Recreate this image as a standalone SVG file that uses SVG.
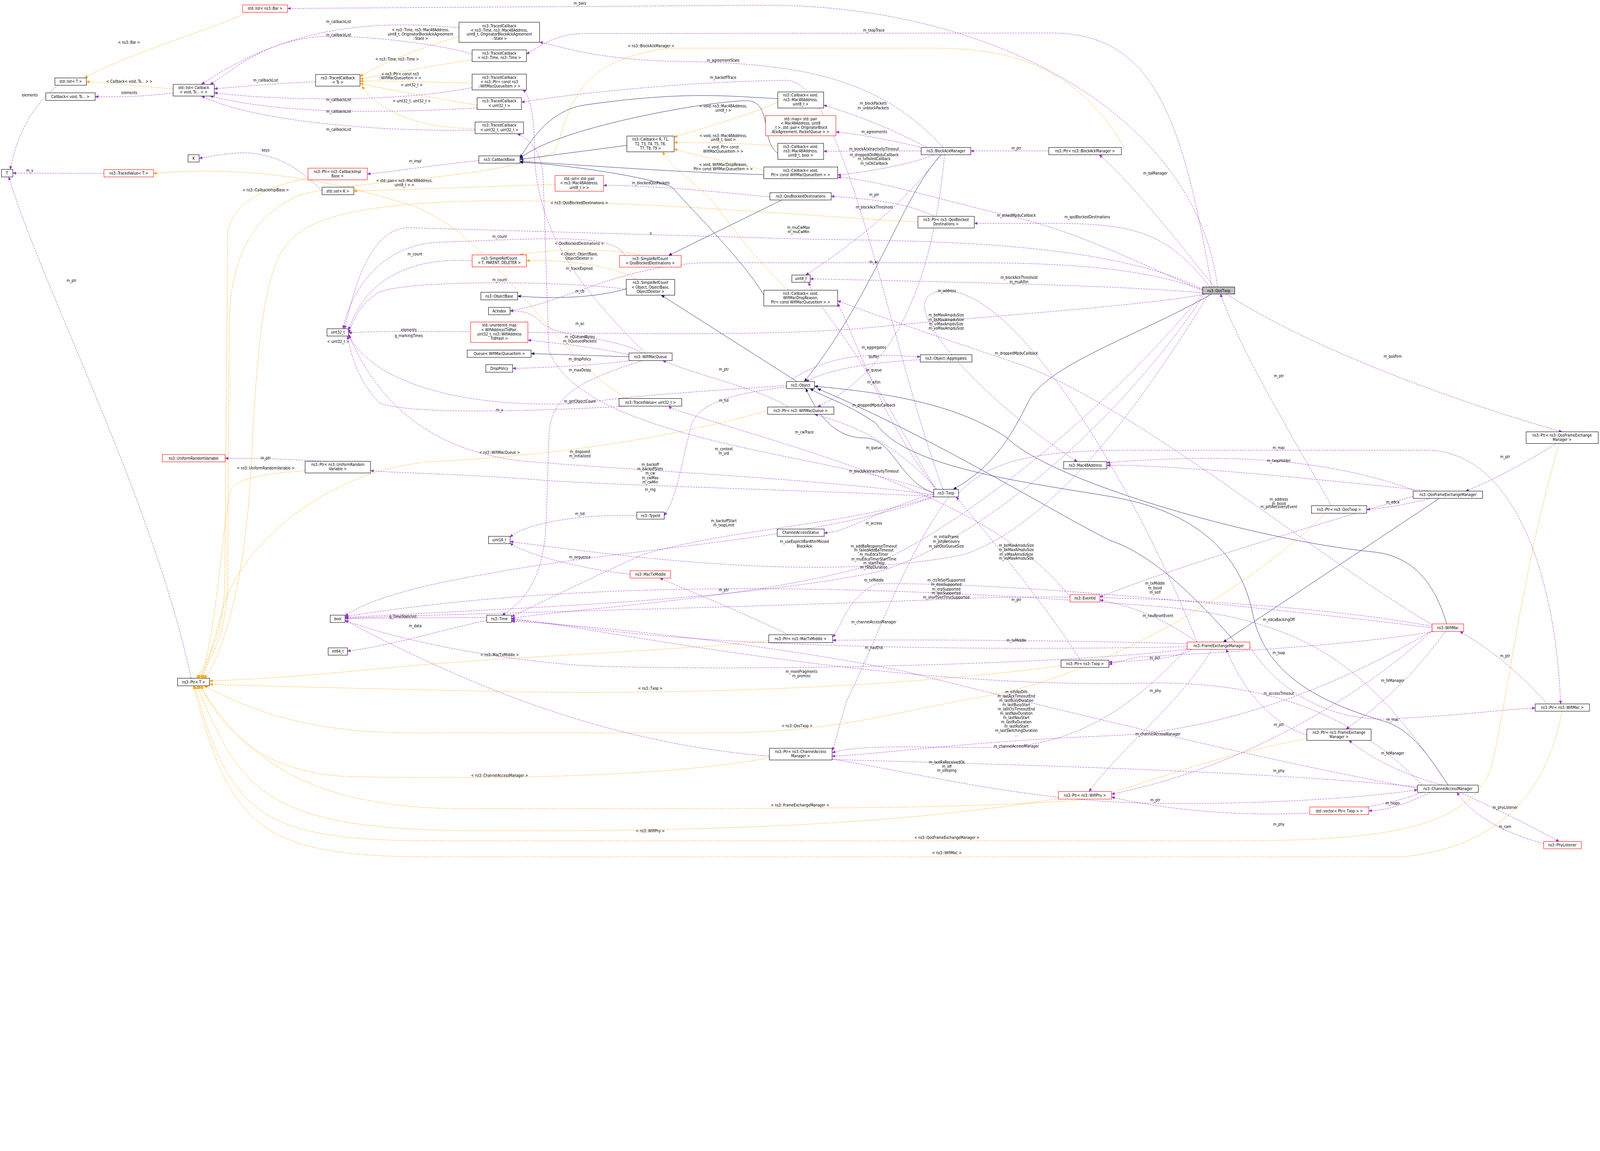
<svg xmlns="http://www.w3.org/2000/svg" width="5480" height="2947" viewBox="0 0 5480 2947" style="max-width:100%;height:auto">
<style>
text{font-family:"DejaVu Sans Condensed","DejaVu Sans","Liberation Sans",sans-serif;font-stretch:condensed;font-size:13px;fill:#000;text-anchor:middle}
.n rect{fill:#fff;stroke:#000;stroke-width:1.4}
.r rect{fill:#fff;stroke:#ff0000;stroke-width:1.4}
.g rect{fill:#bfbfbf;stroke:#000;stroke-width:1.4}
.p{fill:none;stroke:#9a32cd;stroke-width:1.2;stroke-dasharray:6,3;marker-end:url(#ap)}
.o{fill:none;stroke:#ffa500;stroke-width:1.2;stroke-dasharray:6,3;marker-end:url(#ao)}
.b{fill:none;stroke:#191970;stroke-width:1.2;marker-end:url(#ab)}
</style>
<defs>
<marker id="ap" markerWidth="12" markerHeight="10" refX="11" refY="5" orient="auto" markerUnits="userSpaceOnUse"><path d="M0,0 L12,5 L0,10 Z" fill="#9a32cd"/></marker>
<marker id="ao" markerWidth="12" markerHeight="10" refX="11" refY="5" orient="auto" markerUnits="userSpaceOnUse"><path d="M0,0 L12,5 L0,10 Z" fill="#ffa500"/></marker>
<marker id="ab" markerWidth="12" markerHeight="10" refX="11" refY="5" orient="auto" markerUnits="userSpaceOnUse"><path d="M0,0 L12,5 L0,10 Z" fill="#191970"/></marker>
</defs>
<rect width="5480" height="2947" fill="#fff"/>
<g id="connectors">
<path class="o" d="M850,42 C700,110 420,190 290,267"/>
<path class="o" d="M593,305 C480,295 380,285 296,280"/>
<path class="o" d="M1572,125 C1450,160 1300,220 1233,262"/>
<path class="o" d="M1617,205 C1450,230 1300,260 1233,270"/>
<path class="o" d="M1617,285 C1450,280 1300,276 1233,278"/>
<path class="o" d="M1634,360 C1450,330 1300,300 1233,286"/>
<path class="o" d="M1627,440 C1400,440 1280,360 1240,295"/>
<path class="o" d="M2150,1365 C1900,1230 1700,800 1400,700 C1200,640 900,560 526,594"/>
<path class="o" d="M1060,610 C900,640 790,700 780,800 L770,2000 C765,2200 690,2290 675,2323"/>
<path class="o" d="M3850,505 C3700,250 3500,165 3200,165 L2300,165 C1950,200 1950,400 1900,520 C1700,620 1100,620 1000,680 C850,760 790,900 785,1100 L780,2000 C775,2200 700,2290 680,2323"/>
<path class="o" d="M3144,761 C2800,740 2300,700 1900,690 C1500,680 1100,700 1000,820 C900,900 880,1200 860,1600 C840,2000 760,2250 700,2323"/>
<path class="o" d="M2629,1406 C2300,1500 1900,1560 1500,1580 C1100,1600 800,1900 760,2100 L695,2323"/>
<path class="o" d="M1045,1612 C950,1620 810,1630 790,1680 C760,1800 750,2100 690,2323"/>
<path class="o" d="M2633,2195 C2300,2230 1700,2250 1300,2290 C1000,2320 800,2330 718,2332"/>
<path class="o" d="M3634,2280 C3200,2340 2500,2380 1800,2370 C1300,2360 900,2350 718,2344"/>
<path class="o" d="M4540,1758 C4300,2000 3800,2300 3400,2380 C3000,2450 2900,2500 2500,2510 L1400,2510 C1000,2510 800,2400 700,2349"/>
<path class="o" d="M2635,2595 C2300,2660 1700,2670 1200,2660 C900,2650 760,2500 690,2349"/>
<path class="o" d="M4476,2530 C4100,2600 3900,2700 3700,2740 C3300,2770 2800,2770 1600,2770 C1000,2770 830,2560 680,2349"/>
<path class="o" d="M3625,2735 C3100,2820 2500,2850 1600,2845 C900,2840 820,2700 675,2349"/>
<path class="o" d="M5340,1519 C5200,2000 5150,2500 5100,2650 C5000,2850 4700,2880 4200,2880 L1500,2880 C900,2880 790,2800 667,2349"/>
<path class="o" d="M5350,2436 C5300,2700 5150,2900 4800,2935 L1500,2935 C900,2935 790,2850 663,2349"/>
<path class="o" d="M1901,632 C1600,640 1400,650 1212,654"/>
<path class="o" d="M2664,350 C2550,400 2400,440 2309,470"/>
<path class="o" d="M2664,500 C2550,490 2400,488 2309,488"/>
<path class="o" d="M2616,585 C2550,560 2400,540 2309,510"/>
<path class="o" d="M2700,994 C2600,900 2520,800 2450,700 C2380,620 2300,580 2270,520"/>
<path class="o" d="M2200,875 C2100,850 1900,850 1780,873"/>
<path class="o" d="M2180,957 C2100,910 1950,890 1803,893"/>
<path class="b" d="M2147,498 L1781,546"/>
<path class="b" d="M2664,338 C2500,330 2350,310 2000,360 C1880,380 1820,480 1781,540"/>
<path class="b" d="M2664,525 C2600,480 2650,340 2550,345 C2400,350 1900,440 1781,543"/>
<path class="b" d="M2616,598 C2300,590 2000,565 1781,553"/>
<path class="b" d="M2616,1010 C2550,900 2400,750 2300,640 C2200,600 1900,560 1781,556"/>
<path class="b" d="M2680,684 L2290,875"/>
<path class="b" d="M2160,985 C2050,1020 1900,1025 1773,1014"/>
<path class="b" d="M2730,1307 L2265,1011"/>
<path class="b" d="M2154,1222 L1819,1211"/>
<path class="b" d="M3225,530 C3100,650 3000,1000 2755,1307"/>
<path class="b" d="M3198,1688 C3080,1650 3060,1500 2960,1500 C2860,1500 2800,1420 2760,1331"/>
<path class="b" d="M4150,1007 C3900,1150 3580,1250 3520,1380 C3460,1500 3400,1600 3265,1676"/>
<path class="b" d="M4230,2199 C4100,2050 3950,1900 3800,1850 C3600,1750 3200,1500 2800,1331"/>
<path class="b" d="M4955,2137 C4900,1950 4800,1900 4700,1890 C4300,1850 3600,1650 3450,1500 C3300,1400 3100,1350 2790,1323"/>
<path class="b" d="M4960,2689 C4900,2600 4840,2500 4740,2470 C4500,2400 4330,2300 4290,2100 C4250,1900 4100,1750 3800,1700 C3500,1650 3100,1600 3000,1450 C2900,1380 2820,1360 2775,1331"/>
<path class="b" d="M4930,1707 L4190,2199"/>
<path class="p" d="M200,292 C120,350 60,450 35,580"/>
<path class="p" d="M593,318 C500,330 420,333 326,331"/>
<path class="p" d="M1572,95 C1300,70 1000,80 690,289"/>
<path class="p" d="M1617,185 C1500,150 1250,120 1100,125 C900,140 800,240 720,289"/>
<path class="p" d="M1081,280 C950,285 850,295 734,304"/>
<path class="p" d="M1617,300 C1400,345 1000,350 734,318"/>
<path class="p" d="M1634,370 C1400,382 1000,400 720,329"/>
<path class="p" d="M1627,445 C1400,452 900,430 690,329"/>
<path class="p" d="M356,594 L44,593"/>
<path class="p" d="M655,2323 C520,1700 150,1000 30,606"/>
<path class="p" d="M1103,654 C1050,600 950,510 800,525 C740,530 700,540 682,542"/>
<path class="p" d="M1640,550 C1450,570 1330,590 1258,596"/>
<path class="p" d="M4170,983 C4100,400 3400,10 2600,18 L985,29"/>
<path class="p" d="M4150,983 C4050,400 3950,113 3600,113 L2000,115 C1900,115 1850,160 1803,185"/>
<path class="p" d="M3230,505 C3000,250 2700,215 2300,210 C2000,200 1900,150 1848,145"/>
<path class="p" d="M3230,1676 C3050,1200 2900,300 2700,275 C2300,280 1900,330 1786,350"/>
<path class="p" d="M2210,1209 C2000,1000 1830,800 1830,500 C1830,380 1810,320 1790,308"/>
<path class="p" d="M3200,1690 C2900,1560 2000,1520 1880,1200 L1860,600 C1850,500 1800,470 1772,458"/>
<path class="p" d="M3175,505 C3050,440 2950,400 2821,360"/>
<path class="p" d="M3170,508 C3050,480 2950,460 2863,452"/>
<path class="p" d="M3155,517 L2821,518"/>
<path class="p" d="M3200,530 C3100,570 2950,590 2869,600"/>
<path class="p" d="M3592,517 L3325,517"/>
<path class="p" d="M4160,983 C4050,850 3900,650 3765,530"/>
<path class="p" d="M3200,741 C3100,690 2950,680 2847,672"/>
<path class="p" d="M4150,990 C4000,800 3900,765 3600,765 L3337,765"/>
<path class="p" d="M2637,675 C2400,650 2200,635 2067,635"/>
<path class="p" d="M4119,995 C3900,900 3700,800 3500,750 C3200,680 3000,615 2869,607"/>
<path class="p" d="M3220,530 C3100,700 2900,850 2760,942"/>
<path class="p" d="M4119,1003 C3800,975 3200,965 2775,955"/>
<path class="p" d="M4119,993 C3900,910 3600,900 3300,900 L2400,900 C2100,920 1950,1030 1747,1065"/>
<path class="p" d="M4119,990 C3800,830 3200,825 2800,820 L1400,780 C1250,780 1200,1050 1180,1126"/>
<path class="p" d="M1617,893 C1400,880 1250,960 1194,1130"/>
<path class="p" d="M2140,875 C2100,800 1900,815 1500,830 C1300,840 1200,1000 1175,1126"/>
<path class="p" d="M2145,990 C1900,960 1400,960 1300,1000 C1230,1040 1210,1100 1194,1140"/>
<path class="p" d="M2694,1312 C2850,1200 3000,1215 3152,1222"/>
<path class="p" d="M3152,1232 C3000,1240 2850,1260 2760,1307"/>
<path class="p" d="M2200,1209 C2100,1150 1900,1160 1850,1100 C1820,1070 1790,1065 1747,1065"/>
<path class="p" d="M2154,1215 C2050,1190 1900,1175 1808,1165"/>
<path class="p" d="M2160,1235 C2050,1250 1900,1258 1756,1262"/>
<path class="p" d="M2200,1235 C2000,1300 1880,1350 1880,1500 L1870,1800 C1860,2000 1780,2070 1720,2107"/>
<path class="p" d="M2700,1394 C2600,1330 2400,1290 2270,1235"/>
<path class="p" d="M3210,1676 C3050,1500 2900,1450 2790,1419"/>
<path class="p" d="M3235,530 C3200,900 3100,1250 2800,1394"/>
<path class="p" d="M2694,1325 C2500,1350 2400,1380 2370,1450 C2330,1600 2320,1700 2275,1766"/>
<path class="p" d="M2181,1766 C2000,1760 1800,1790 1747,1840"/>
<path class="p" d="M2158,1967 C2000,1950 1800,1900 1747,1860"/>
<path class="p" d="M2700,2174 C2550,2100 2350,2020 2260,1980"/>
<path class="p" d="M1100,1580 C950,1570 850,1570 771,1570"/>
<path class="p" d="M3198,1700 C2800,1680 2000,1660 1800,1640 C1500,1620 1350,1620 1269,1612"/>
<path class="p" d="M3198,1695 C2800,1640 2300,1620 1800,1580 C1500,1550 1300,1400 1194,1145"/>
<path class="p" d="M2150,1391 C1800,1410 1400,1420 1300,1380 C1220,1300 1200,1200 1190,1151"/>
<path class="p" d="M2694,1320 C2500,1335 2200,1350 2000,1380 C1700,1400 1300,1350 1194,1148"/>
<path class="p" d="M3665,2045 C3400,1700 2700,1530 2400,1430 C2330,1410 2300,1400 2290,1391"/>
<path class="p" d="M3198,1690 C3000,1750 2900,1825 2823,1825"/>
<path class="p" d="M3198,1700 C2900,1800 2500,1810 2200,1900 C2000,1990 1800,2090 1752,2112"/>
<path class="p" d="M3198,1702 C2800,1850 2200,1870 1700,1960 C1400,2010 1250,2060 1182,2110"/>
<path class="p" d="M3205,1676 C3100,1500 3000,1300 2850,1100 C2800,1030 2780,1000 2770,967"/>
<path class="p" d="M4119,1005 C3800,1400 3300,1800 3000,1930 C2600,2050 2000,2080 1752,2118"/>
<path class="p" d="M4125,1007 C3800,1500 3300,1880 3000,1960 C2500,2060 1800,2080 1182,2115"/>
<path class="p" d="M4130,1007 C3900,1050 3400,1080 3000,1120 C2500,1170 1500,1120 1194,1140"/>
<path class="p" d="M4140,1007 C3900,1400 3600,1800 3300,1900 C2800,2000 2100,1900 1747,1855"/>
<path class="p" d="M3205,1676 C3000,1400 2950,1200 2869,1040"/>
<path class="p" d="M4905,2140 C4500,1900 3900,1400 3500,1250 C3200,1150 3000,1080 2869,1030"/>
<path class="p" d="M4100,2199 C3900,1700 3500,1000 3240,996 C3000,1000 3400,1400 3690,1581"/>
<path class="p" d="M3250,1702 C3100,1900 3000,2200 2900,2400 C2870,2500 2860,2550 2850,2570"/>
<path class="p" d="M4905,2150 C4500,2100 3500,1990 3000,2000 C2900,2050 2880,2150 2852,2182"/>
<path class="p" d="M4066,2205 C3700,2194 3200,2190 2852,2193"/>
<path class="p" d="M4066,2215 C3600,2225 2600,2230 2000,2150 C1850,2130 1800,2125 1752,2125"/>
<path class="p" d="M4080,2224 C4050,2250 3950,2262 3798,2268"/>
<path class="p" d="M3700,2261 C3600,2100 3400,1850 3275,1702"/>
<path class="p" d="M4100,2199 C4000,2130 3900,2080 3767,2055"/>
<path class="p" d="M4150,2224 C4050,2400 3850,2550 3730,2711"/>
<path class="p" d="M4855,2700 C4300,2600 3500,2400 3100,2300 C2600,2200 2000,2140 1752,2128"/>
<path class="p" d="M4066,2220 C3900,2400 3700,2560 3400,2560 C3100,2560 2950,2550 2850,2578"/>
<path class="p" d="M4905,2160 C4500,2400 4100,2510 3800,2520 C3300,2540 3000,2585 2850,2590"/>
<path class="p" d="M4855,2695 C4300,2640 3500,2620 2800,2600 C2200,2580 1700,2400 1182,2125"/>
<path class="p" d="M2850,2600 C3100,2640 3500,2740 3900,2750 C4300,2760 4700,2730 4855,2705"/>
<path class="p" d="M4905,2145 C4500,2070 3800,2030 3300,2050 C2600,2080 1600,2100 1182,2118"/>
<path class="p" d="M4910,2163 C4700,2200 4300,2230 3900,2250 C3850,2260 3820,2270 3798,2276"/>
<path class="p" d="M4950,2163 C4850,2300 4750,2400 4610,2497"/>
<path class="p" d="M4940,2689 C4800,2650 4700,2600 4620,2536"/>
<path class="p" d="M4476,2517 C4350,2480 4250,2350 4200,2224"/>
<path class="p" d="M4281,2215 C4400,2400 4600,2480 4800,2460 C5000,2450 5150,2430 5258,2425"/>
<path class="p" d="M5300,2411 C5200,2300 5100,2220 5000,2163"/>
<path class="p" d="M3283,1690 C3400,1560 3600,1542 3900,1542 L4900,1542 C5200,1560 5330,2000 5345,2411"/>
<path class="p" d="M4900,1682 C4500,1640 4000,1590 3791,1594"/>
<path class="p" d="M4900,1707 C4800,1730 4750,1740 4681,1745"/>
<path class="p" d="M4560,1732 C4400,1450 4250,1200 4180,1007"/>
<path class="p" d="M4200,1007 C4500,1200 5000,1380 5350,1479"/>
<path class="p" d="M5330,1519 C5200,1600 5100,1650 5020,1682"/>
<path class="p" d="M4960,2689 C4700,2300 4500,2130 4000,2080 C3000,2000 2000,1980 1182,2112"/>
<path class="p" d="M4870,2689 C4600,2400 4250,2330 3900,2340 C3000,2360 2000,2140 1752,2120"/>
<path class="p" d="M4900,2714 C4800,2760 4750,2775 4688,2777"/>
<path class="p" d="M5000,2714 C5150,2780 5280,2850 5340,2882"/>
<path class="p" d="M5287,2890 C5150,2850 5050,2800 4990,2714"/>
<path class="p" d="M4870,2714 C4600,2820 4100,2800 3807,2730"/>
<path class="p" d="M4905,2160 C4700,2350 4300,2620 3807,2720"/>
<path class="p" d="M1667,2115 L1182,2118"/>
<path class="p" d="M1667,2125 C1500,2160 1350,2210 1190,2230"/>
<path class="p" d="M4840,1700 C4500,1800 4000,1950 3767,2045"/>
<path class="p" d="M4066,2224 C3600,2280 2500,2300 2000,2280 C1600,2250 1300,2170 1182,2125"/>
<path class="p" d="M4850,1682 C4500,1550 4100,1560 3791,1585"/>
<text x="442" y="150">&lt; ns3::Bar &gt;</text>
<text x="102" y="331">elements</text>
<text x="443" y="283">&lt; Callback&lt; void, Ts... &gt; &gt;</text>
<text x="443" y="322">elements</text>
<text x="1160" y="79">m_callbackList</text>
<text x="1160" y="124">m_callbackList</text>
<text x="910" y="280">m_callbackList</text>
<text x="1160" y="346">m_callbackList</text>
<text x="1160" y="386">m_callbackList</text>
<text x="1160" y="448">m_callbackList</text>
<text x="910" y="519">keys</text>
<text x="102" y="589">m_v</text>
<text x="910" y="655">&lt; ns3::CallbackImplBase &gt;</text>
<text x="245" y="966">m_ptr</text>
<text x="1440" y="107">&lt; ns3::Time, ns3::Mac48Address,</text>
<text x="1440" y="122">uint8_t, OriginatorBlockAckAgreement</text>
<text x="1440" y="136">::State &gt;</text>
<text x="1360" y="208">&lt; ns3::Time, ns3::Time &gt;</text>
<text x="1370" y="258">&lt; ns3::Ptr&lt; const ns3</text>
<text x="1370" y="272">::WifiMacQueueItem &gt; &gt;</text>
<text x="1410" y="296">&lt; uint32_t &gt;</text>
<text x="1410" y="350">&lt; uint32_t, uint32_t &gt;</text>
<text x="1986" y="16">m_bars</text>
<text x="2230" y="162">&lt; ns3::BlockAckManager &gt;</text>
<text x="2477" y="211">m_agreementState</text>
<text x="2477" y="270">m_backoffTrace</text>
<text x="2477" y="368">&lt; void, ns3::Mac48Address,</text>
<text x="2477" y="383">uint8_t &gt;</text>
<text x="2477" y="469">&lt; void, ns3::Mac48Address,</text>
<text x="2477" y="483">uint8_t, bool &gt;</text>
<text x="2477" y="509">&lt; void, Ptr&lt; const</text>
<text x="2477" y="523">WifiMacQueueItem &gt; &gt;</text>
<text x="2477" y="568">&lt; void, WifiMacDropReason,</text>
<text x="2477" y="583">Ptr&lt; const WifiMacQueueItem &gt; &gt;</text>
<text x="1422" y="556">m_impl</text>
<text x="1385" y="624">&lt; std::pair&lt; ns3::Mac48Address,</text>
<text x="1385" y="638">uint8_t &gt; &gt;</text>
<text x="2229" y="632">m_blockedQosPackets</text>
<text x="1984" y="699">&lt; ns3::QosBlockedDestinations &gt;</text>
<text x="1711" y="815">m_count</text>
<text x="1421" y="875">m_count</text>
<text x="1711" y="963">m_count</text>
<text x="2229" y="804">n</text>
<text x="1984" y="839">&lt; QosBlockedDestinations &gt;</text>
<text x="1984" y="875">&lt; Object, ObjectBase,</text>
<text x="1984" y="889">ObjectDeleter &gt;</text>
<text x="1984" y="924">m_traceExpired</text>
<text x="2735" y="784">m_muCwMax</text>
<text x="2735" y="799">m_muCwMin</text>
<text x="2993" y="109">m_txopTrace</text>
<text x="2991" y="359">m_blockPackets</text>
<text x="2991" y="374">m_unblockPackets</text>
<text x="2994" y="456">m_agreements</text>
<text x="2994" y="515">m_blockAckInactivityTimeout</text>
<text x="2994" y="535">m_droppedOldMpduCallback</text>
<text x="2994" y="549">m_txFailedCallback</text>
<text x="2994" y="564">m_txOkCallback</text>
<text x="3481" y="513">m_ptr</text>
<text x="3957" y="598">m_baManager</text>
<text x="2994" y="672">m_ptr</text>
<text x="2994" y="714">m_blockAckThreshold</text>
<text x="3481" y="742">m_ackedMpduCallback</text>
<text x="3724" y="748">m_qosBlockedDestinations</text>
<text x="2993" y="901">m_ac</text>
<text x="3490" y="955">m_blockAckThreshold</text>
<text x="3490" y="970">m_muAifsn</text>
<text x="1158" y="1174">&lt; uint32_t &gt;</text>
<text x="910" y="1573">m_ptr</text>
<text x="910" y="1608">&lt; ns3::UniformRandomVariable &gt;</text>
<text x="1986" y="1002">m_cb</text>
<text x="1400" y="1134">elements</text>
<text x="1400" y="1154">g_markingTimes</text>
<text x="1986" y="1113">m_ac</text>
<text x="1986" y="1159">m_nQueuedBytes</text>
<text x="1986" y="1173">m_nQueuedPackets</text>
<text x="1986" y="1235">m_dropPolicy</text>
<text x="1986" y="1272">m_maxDelay</text>
<text x="2479" y="1269">m_ptr</text>
<text x="1986" y="1379">m_getObjectCount</text>
<text x="2479" y="1376">m_tid</text>
<text x="1711" y="1409">m_v</text>
<text x="2755" y="1485">m_cwTrace</text>
<text x="1711" y="1554">&lt; ns3::WifiMacQueue &gt;</text>
<text x="1986" y="1552">m_disposed</text>
<text x="1986" y="1567">m_initialized</text>
<text x="2479" y="1543">m_context</text>
<text x="2479" y="1557">m_uid</text>
<text x="2227" y="1596">m_backoff</text>
<text x="2227" y="1611">m_backoffSlots</text>
<text x="2227" y="1626">m_cw</text>
<text x="2227" y="1641">m_cwMax</text>
<text x="2227" y="1656">m_cwMin</text>
<text x="2227" y="1681">m_rng</text>
<text x="1986" y="1764">m_tid</text>
<text x="2479" y="1788">m_backoffStart</text>
<text x="2479" y="1803">m_txopLimit</text>
<text x="2755" y="1860">m_useExplicitBarAfterMissed</text>
<text x="2755" y="1875">BlockAck</text>
<text x="1986" y="1913">m_sequence</text>
<text x="3243" y="1000">m_address</text>
<text x="3241" y="1084">m_beMaxAmpduSize</text>
<text x="3241" y="1099">m_bkMaxAmpduSize</text>
<text x="3241" y="1114">m_viMaxAmpduSize</text>
<text x="3241" y="1129">m_voMaxAmpduSize</text>
<text x="2993" y="1195">m_aggregates</text>
<text x="2993" y="1227">buffer</text>
<text x="2993" y="1272">m_queue</text>
<text x="2993" y="1314">m_aifsn</text>
<text x="3481" y="1214">m_droppedMpduCallback</text>
<text x="2993" y="1393">m_droppedMpduCallback</text>
<text x="2993" y="1539">m_queue</text>
<text x="2993" y="1618">m_blockAckInactivityTimeout</text>
<text x="2993" y="1796">m_access</text>
<text x="2993" y="1875">m_addBaResponseTimeout</text>
<text x="2993" y="1889">m_failedAddBaTimeout</text>
<text x="2993" y="1904">m_muEdcaTimer</text>
<text x="2993" y="1919">m_muEdcaTimerStartTime</text>
<text x="2993" y="1933">m_startTxop</text>
<text x="2993" y="1948">m_txopDuration</text>
<text x="3241" y="1844">m_initialFrame</text>
<text x="3241" y="1860">m_pifsRecovery</text>
<text x="3241" y="1875">m_setQosQueueSize</text>
<text x="3481" y="1873">m_beMaxAmsduSize</text>
<text x="3481" y="1888">m_bkMaxAmsduSize</text>
<text x="3481" y="1903">m_viMaxAmsduSize</text>
<text x="3481" y="1917">m_voMaxAmsduSize</text>
<text x="4770" y="1225">m_qosFem</text>
<text x="4380" y="1292">m_ptr</text>
<text x="4380" y="1539">m_mac</text>
<text x="5155" y="1569">m_ptr</text>
<text x="4380" y="1583">m_txopHolder</text>
<text x="4770" y="1724">m_edca</text>
<text x="4380" y="1715">m_address</text>
<text x="4380" y="1730">m_bssid</text>
<text x="4380" y="1740">m_pifsRecoveryEvent</text>
<text x="1380" y="2116">g_TimeStaticInit</text>
<text x="1422" y="2148">m_data</text>
<text x="2479" y="2025">m_ptr</text>
<text x="1711" y="2247">&lt; ns3::MacTxMiddle &gt;</text>
<text x="2745" y="2305">m_moreFragments</text>
<text x="2745" y="2320">m_promisc</text>
<text x="2227" y="2363">&lt; ns3::Txop &gt;</text>
<text x="2730" y="2491">&lt; ns3::QosTxop &gt;</text>
<text x="1711" y="2661">&lt; ns3::ChannelAccessManager &gt;</text>
<text x="2740" y="2762">&lt; ns3::FrameExchangeManager &gt;</text>
<text x="2227" y="2851">&lt; ns3::WifiPhy &gt;</text>
<text x="2993" y="1992">m_txMiddle</text>
<text x="3241" y="1992">m_ctsToSelfSupported</text>
<text x="3241" y="2007">m_dsssSupported</text>
<text x="3241" y="2022">m_erpSupported</text>
<text x="3241" y="2036">m_qosSupported</text>
<text x="3241" y="2051">m_shortSlotTimeSupported</text>
<text x="3481" y="2059">m_ptr</text>
<text x="3956" y="2002">m_txMiddle</text>
<text x="3956" y="2019">m_bssid</text>
<text x="3956" y="2034">m_self</text>
<text x="3966" y="2113">m_navResetEvent</text>
<text x="2993" y="2135">m_channelAccessManager</text>
<text x="3481" y="2198">m_txMiddle</text>
<text x="2993" y="2223">m_navEnd</text>
<text x="3955" y="2258">m_dcf</text>
<text x="3957" y="2371">m_phy</text>
<text x="3481" y="2374">m_eifsNoDifs</text>
<text x="3481" y="2389">m_lastAckTimeoutEnd</text>
<text x="3481" y="2404">m_lastBusyDuration</text>
<text x="3481" y="2418">m_lastBusyStart</text>
<text x="3481" y="2433">m_lastCtsTimeoutEnd</text>
<text x="3481" y="2448">m_lastNavDuration</text>
<text x="3481" y="2463">m_lastNavStart</text>
<text x="3481" y="2478">m_lastRxDuration</text>
<text x="3481" y="2492">m_lastRxStart</text>
<text x="3481" y="2507">m_lastSwitchingDuration</text>
<text x="3481" y="2522">...</text>
<text x="3966" y="2519">m_channelAccessManager</text>
<text x="3481" y="2561">m_channelAccessManager</text>
<text x="3243" y="2615">m_lastRxReceivedOk</text>
<text x="3243" y="2630">m_off</text>
<text x="3243" y="2644">m_sleeping</text>
<text x="3957" y="2745">m_ptr</text>
<text x="3243" y="2874">&lt; ns3::QosFrameExchangeManager &gt;</text>
<text x="3243" y="2926">&lt; ns3::WifiMac &gt;</text>
<text x="4380" y="2127">m_edcaBackingOff</text>
<text x="4380" y="2241">m_txop</text>
<text x="4770" y="2335">m_feManager</text>
<text x="4380" y="2380">m_accessTimeout</text>
<text x="5155" y="2251">m_ptr</text>
<text x="4770" y="2469">m_mac</text>
<text x="4380" y="2487">m_ptr</text>
<text x="4770" y="2585">m_feManager</text>
<text x="4380" y="2645">m_phy</text>
<text x="4770" y="2756">m_txops</text>
<text x="5155" y="2770">m_phyListener</text>
<text x="4380" y="2828">m_phy</text>
<text x="5155" y="2836">m_cam</text>
</g>
<g id="n1" class="r"><rect x="831" y="17" width="154" height="25"/><text x="908" y="34">std::list&lt; ns3::Bar &gt;</text></g>
<g id="n2" class="n"><rect x="188" y="267" width="108" height="25"/><text x="242" y="284">std::list&lt; T &gt;</text></g>
<g id="n3" class="n"><rect x="157" y="318" width="169" height="26"/><text x="241" y="336">Callback&lt; void, Ts... &gt;</text></g>
<g id="n4" class="n"><rect x="593" y="289" width="141" height="40"/><text x="663" y="305">std::list&lt; Callback</text><text x="663" y="320">&lt; void, Ts... &gt; &gt;</text></g>
<g id="n5" class="n"><rect x="1081" y="255" width="152" height="40"/><text x="1157" y="271">ns3::TracedCallback</text><text x="1157" y="286">&lt; Ts &gt;</text></g>
<g id="n6" class="n"><rect x="644" y="530" width="38" height="25"/><text x="663" y="547">K</text></g>
<g id="n7" class="n"><rect x="5" y="580" width="39" height="26"/><text x="24" y="598">T</text></g>
<g id="n8" class="r"><rect x="356" y="581" width="170" height="25"/><text x="441" y="598">ns3::TracedValue&lt; T &gt;</text></g>
<g id="n9" class="r"><rect x="1055" y="576" width="203" height="40"/><text x="1156" y="592">ns3::Ptr&lt; ns3::CallbackImpl</text><text x="1156" y="607">Base &gt;</text></g>
<g id="n10" class="n"><rect x="1103" y="641" width="109" height="26"/><text x="1157" y="659">std::set&lt; K &gt;</text></g>
<g id="n11" class="n"><rect x="1572" y="76" width="276" height="69"/><text x="1710" y="93">ns3::TracedCallback</text><text x="1710" y="108">&lt; ns3::Time, ns3::Mac48Address,</text><text x="1710" y="122">uint8_t, OriginatorBlockAckAgreement</text><text x="1710" y="137">::State &gt;</text></g>
<g id="n12" class="n"><rect x="1617" y="171" width="186" height="40"/><text x="1710" y="187">ns3::TracedCallback</text><text x="1710" y="202">&lt; ns3::Time, ns3::Time &gt;</text></g>
<g id="n13" class="n"><rect x="1617" y="254" width="186" height="54"/><text x="1710" y="270">ns3::TracedCallback</text><text x="1710" y="285">&lt; ns3::Ptr&lt; const ns3</text><text x="1710" y="300">::WifiMacQueueItem &gt; &gt;</text></g>
<g id="n14" class="n"><rect x="1634" y="335" width="152" height="40"/><text x="1710" y="351">ns3::TracedCallback</text><text x="1710" y="366">&lt; uint32_t &gt;</text></g>
<g id="n15" class="n"><rect x="1627" y="418" width="166" height="40"/><text x="1710" y="434">ns3::TracedCallback</text><text x="1710" y="449">&lt; uint32_t, uint32_t &gt;</text></g>
<g id="n16" class="n"><rect x="1640" y="534" width="141" height="25"/><text x="1710" y="551">ns3::CallbackBase</text></g>
<g id="n17" class="n"><rect x="2147" y="466" width="162" height="54"/><text x="2228" y="482">ns3::Callback&lt; R, T1,</text><text x="2228" y="497">T2, T3, T4, T5, T6,</text><text x="2228" y="512">T7, T8, T9 &gt;</text></g>
<g id="n18" class="r"><rect x="1901" y="601" width="166" height="54"/><text x="1984" y="617">std::set&lt; std::pair</text><text x="1984" y="632">&lt; ns3::Mac48Address,</text><text x="1984" y="647">uint8_t &gt; &gt;</text></g>
<g id="n19" class="r"><rect x="1617" y="873" width="186" height="41"/><text x="1710" y="889">ns3::SimpleRefCount</text><text x="1710" y="904">&lt; T, PARENT, DELETER &gt;</text></g>
<g id="n20" class="r"><rect x="2122" y="875" width="211" height="40"/><text x="2227" y="891">ns3::SimpleRefCount</text><text x="2227" y="906">&lt; QosBlockedDestinations &gt;</text></g>
<g id="n21" class="n"><rect x="2145" y="957" width="166" height="54"/><text x="2228" y="973">ns3::SimpleRefCount</text><text x="2228" y="988">&lt; Object, ObjectBase,</text><text x="2228" y="1003">ObjectDeleter &gt;</text></g>
<g id="n22" class="n"><rect x="2664" y="315" width="157" height="55"/><text x="2742" y="331">ns3::Callback&lt; void,</text><text x="2742" y="346">ns3::Mac48Address,</text><text x="2742" y="361">uint8_t &gt;</text></g>
<g id="n23" class="r"><rect x="2622" y="396" width="241" height="69"/><text x="2742" y="412">std::map&lt; std::pair</text><text x="2742" y="427">&lt; Mac48Address, uint8</text><text x="2742" y="441">_t &gt;, std::pair&lt; OriginatorBlock</text><text x="2742" y="456">AckAgreement, PacketQueue &gt; &gt;</text></g>
<g id="n24" class="n"><rect x="2664" y="491" width="157" height="55"/><text x="2742" y="507">ns3::Callback&lt; void,</text><text x="2742" y="522">ns3::Mac48Address,</text><text x="2742" y="537">uint8_t, bool &gt;</text></g>
<g id="n25" class="n"><rect x="2616" y="572" width="253" height="40"/><text x="2742" y="588">ns3::Callback&lt; void,</text><text x="2742" y="603">Ptr&lt; const WifiMacQueueItem &gt; &gt;</text></g>
<g id="n26" class="n"><rect x="2637" y="660" width="210" height="25"/><text x="2742" y="677">ns3::QosBlockedDestinations</text></g>
<g id="n27" class="n"><rect x="3155" y="505" width="170" height="25"/><text x="3240" y="522">ns3::BlockAckManager</text></g>
<g id="n28" class="n"><rect x="3592" y="505" width="249" height="25"/><text x="3716" y="522">ns3::Ptr&lt; ns3::BlockAckManager &gt;</text></g>
<g id="n29" class="n"><rect x="3144" y="741" width="193" height="40"/><text x="3240" y="757">ns3::Ptr&lt; ns3::QosBlocked</text><text x="3240" y="772">Destinations &gt;</text></g>
<g id="n30" class="n"><rect x="2712" y="942" width="63" height="25"/><text x="2743" y="959">uint8_t</text></g>
<g id="n31" class="g"><rect x="4119" y="983" width="110" height="24"/><text x="4174" y="1000">ns3::QosTxop</text></g>
<g id="n32" class="n"><rect x="1120" y="1126" width="74" height="25"/><text x="1157" y="1143">uint32_t</text></g>
<g id="n33" class="r"><rect x="556" y="1557" width="215" height="25"/><text x="663" y="1574">ns3::UniformRandomVariable</text></g>
<g id="n34" class="n"><rect x="1045" y="1580" width="224" height="40"/><text x="1157" y="1596">ns3::Ptr&lt; ns3::UniformRandom</text><text x="1157" y="1611">Variable &gt;</text></g>
<g id="n35" class="n"><rect x="1647" y="1001" width="126" height="26"/><text x="1710" y="1019">ns3::ObjectBase</text></g>
<g id="n36" class="n"><rect x="1673" y="1053" width="74" height="25"/><text x="1710" y="1070">AcIndex</text></g>
<g id="n37" class="r"><rect x="1612" y="1103" width="196" height="70"/><text x="1710" y="1119">std::unordered_map</text><text x="1710" y="1134">&lt; WifiAddressTidPair,</text><text x="1710" y="1149">uint32_t, ns3::WifiAddress</text><text x="1710" y="1164">TidHash &gt;</text></g>
<g id="n38" class="n"><rect x="1600" y="1199" width="219" height="25"/><text x="1710" y="1216">Queue&lt; WifiMacQueueItem &gt;</text></g>
<g id="n39" class="n"><rect x="1664" y="1249" width="92" height="26"/><text x="1710" y="1267">DropPolicy</text></g>
<g id="n40" class="n"><rect x="2154" y="1209" width="148" height="26"/><text x="2228" y="1227">ns3::WifiMacQueue</text></g>
<g id="n41" class="n"><rect x="2120" y="1365" width="215" height="26"/><text x="2228" y="1383">ns3::TracedValue&lt; uint32_t &gt;</text></g>
<g id="n42" class="n"><rect x="2181" y="1754" width="94" height="24"/><text x="2228" y="1771">ns3::TypeId</text></g>
<g id="n43" class="n"><rect x="1673" y="1837" width="74" height="25"/><text x="1710" y="1854">uint16_t</text></g>
<g id="n44" class="r"><rect x="2158" y="1955" width="139" height="25"/><text x="2228" y="1972">ns3::MacTxMiddle</text></g>
<g id="n45" class="n"><rect x="2662" y="1812" width="161" height="25"/><text x="2742" y="1829">ChannelAccessStatus</text></g>
<g id="n46" class="n"><rect x="2694" y="1307" width="96" height="24"/><text x="2742" y="1324">ns3::Object</text></g>
<g id="n47" class="n"><rect x="2629" y="1394" width="227" height="25"/><text x="2742" y="1411">ns3::Ptr&lt; ns3::WifiMacQueue &gt;</text></g>
<g id="n48" class="n"><rect x="2616" y="994" width="253" height="54"/><text x="2742" y="1010">ns3::Callback&lt; void,</text><text x="2742" y="1025">WifiMacDropReason,</text><text x="2742" y="1040">Ptr&lt; const WifiMacQueueItem &gt; &gt;</text></g>
<g id="n49" class="n"><rect x="3152" y="1215" width="177" height="25"/><text x="3240" y="1232">ns3::Object::Aggregates</text></g>
<g id="n50" class="n"><rect x="3198" y="1676" width="85" height="26"/><text x="3240" y="1694">ns3::Txop</text></g>
<g id="n51" class="n"><rect x="3643" y="1581" width="148" height="25"/><text x="3717" y="1598">ns3::Mac48Address</text></g>
<g id="n52" class="n"><rect x="5227" y="1479" width="247" height="40"/><text x="5350" y="1495">ns3::Ptr&lt; ns3::QosFrameExchange</text><text x="5350" y="1510">Manager &gt;</text></g>
<g id="n53" class="n"><rect x="4840" y="1682" width="238" height="25"/><text x="4959" y="1699">ns3::QosFrameExchangeManager</text></g>
<g id="n54" class="n"><rect x="4492" y="1732" width="189" height="26"/><text x="4586" y="1750">ns3::Ptr&lt; ns3::QosTxop &gt;</text></g>
<g id="n55" class="n"><rect x="1131" y="2107" width="51" height="25"/><text x="1157" y="2124">bool</text></g>
<g id="n56" class="n"><rect x="1124" y="2219" width="66" height="25"/><text x="1157" y="2236">int64_t</text></g>
<g id="n57" class="n"><rect x="608" y="2323" width="110" height="26"/><text x="663" y="2341">ns3::Ptr&lt; T &gt;</text></g>
<g id="n58" class="n"><rect x="1667" y="2107" width="85" height="25"/><text x="1710" y="2124">ns3::Time</text></g>
<g id="n59" class="n"><rect x="2633" y="2174" width="219" height="27"/><text x="2742" y="2192">ns3::Ptr&lt; ns3::MacTxMiddle &gt;</text></g>
<g id="n60" class="n"><rect x="2635" y="2563" width="215" height="40"/><text x="2742" y="2579">ns3::Ptr&lt; ns3::ChannelAccess</text><text x="2742" y="2594">Manager &gt;</text></g>
<g id="n61" class="r"><rect x="3665" y="2037" width="102" height="25"/><text x="3716" y="2054">ns3::EventId</text></g>
<g id="n62" class="n"><rect x="3634" y="2261" width="164" height="25"/><text x="3716" y="2278">ns3::Ptr&lt; ns3::Txop &gt;</text></g>
<g id="n63" class="r"><rect x="3625" y="2711" width="182" height="26"/><text x="3716" y="2729">ns3::Ptr&lt; ns3::WifiPhy &gt;</text></g>
<g id="n64" class="r"><rect x="4066" y="2199" width="215" height="25"/><text x="4174" y="2216">ns3::FrameExchangeManager</text></g>
<g id="n65" class="r"><rect x="4905" y="2137" width="108" height="26"/><text x="4959" y="2155">ns3::WifiMac</text></g>
<g id="n66" class="n"><rect x="4476" y="2497" width="220" height="39"/><text x="4586" y="2513">ns3::Ptr&lt; ns3::FrameExchange</text><text x="4586" y="2528">Manager &gt;</text></g>
<g id="n67" class="n"><rect x="5258" y="2411" width="186" height="25"/><text x="5351" y="2428">ns3::Ptr&lt; ns3::WifiMac &gt;</text></g>
<g id="n68" class="n"><rect x="4855" y="2689" width="208" height="25"/><text x="4959" y="2706">ns3::ChannelAccessManager</text></g>
<g id="n69" class="r"><rect x="4486" y="2764" width="202" height="26"/><text x="4587" y="2782">std::vector&lt; Ptr&lt; Txop &gt; &gt;</text></g>
<g id="n70" class="r"><rect x="5287" y="2882" width="129" height="25"/><text x="5351" y="2899">ns3::PhyListener</text></g>
</svg>
